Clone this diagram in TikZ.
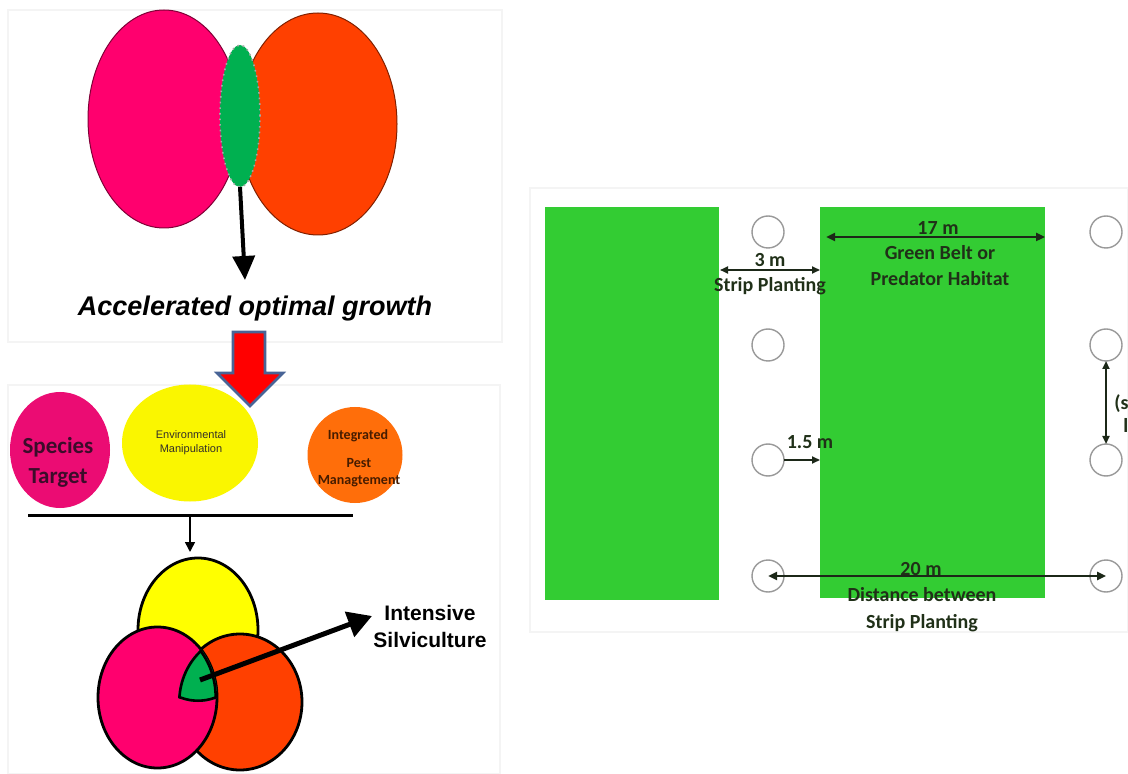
\documentclass[tikz,border=0pt]{standalone}
\usepackage{fontspec}
\setmainfont{Liberation Sans}
\newfontfamily\calfont{Carlito}
\usetikzlibrary{shapes.geometric,arrows.meta}
\definecolor{hotpink}{RGB}{255,0,110}
\definecolor{redorange}{RGB}{255,64,0}
\definecolor{lensgreen}{RGB}{0,176,80}
\definecolor{spink}{RGB}{235,12,115}
\definecolor{eyellow}{RGB}{250,246,0}
\definecolor{ipmorange}{RGB}{255,110,10}
\definecolor{vyellow}{RGB}{255,255,0}
\definecolor{stripgreen}{RGB}{51,204,51}
\definecolor{darktxt}{RGB}{32,48,24}
\definecolor{darkline}{RGB}{28,40,24}
\definecolor{arrowblue}{RGB}{72,100,150}
\definecolor{panelgray}{RGB}{244,244,244}
\definecolor{sptxt}{RGB}{60,12,42}
\definecolor{ipmtxt}{RGB}{70,28,0}
\tikzset{
  blob/.style={ellipse, inner sep=0pt, outer sep=0pt},
  stripbox/.style={rectangle, fill=stripgreen, inner sep=0pt, outer sep=0pt},
  tree/.style={circle, draw=gray!80, fill=white, line width=0.7pt, minimum size=16pt, inner sep=0pt, outer sep=0pt},
  dimthick/.style={draw=darkline, line width=1.3pt, {Triangle[length=4.5pt,width=4pt]}-{Triangle[length=4.5pt,width=4pt]}},
  dimthin/.style={draw=darkline, line width=0.9pt, {Triangle[length=4pt,width=3.5pt]}-{Triangle[length=4pt,width=3.5pt]}},
  caltxt/.style={font=\calfont\bfseries\fontsize{10pt}{12pt}\selectfont, text=darktxt, inner sep=0pt, anchor=base},
  venn/.style={draw=black, line width=1.4pt},
}
\begin{document}
\begin{tikzpicture}[x=0.5pt,y=-0.5pt]
\useasboundingbox (0,0) rectangle (1128,774);
\fill[white] (0,0) rectangle (1128,774);
% faint panel frames
\draw[panelgray, line width=0.6pt] (8,10) rectangle (502,342);
\draw[panelgray, line width=0.6pt] (8,385) rectangle (500,774);
\draw[panelgray, line width=0.6pt] (530,188) rectangle (1128,632);

% ---------- top panel ----------
\node[blob, fill=hotpink, draw=hotpink!50!black, line width=0.5pt, minimum width=76pt, minimum height=109pt] (tpink) at (164,119) {};
\node[blob, fill=redorange, draw=redorange!50!black, line width=0.5pt, minimum width=79pt, minimum height=111pt] (tred) at (318,124) {};
\node[blob, fill=lensgreen, draw=gray!70, dotted, line width=0.8pt, minimum width=20pt, minimum height=71pt] (lens) at (240,116) {};
\coordinate (aogtip) at (245,280);
\draw[line width=2pt, -{Triangle[length=12pt,width=11pt]}] (lens.south) -- (aogtip);
\node[font=\fontsize{13.5pt}{16pt}\selectfont\bfseries\itshape, anchor=base, inner sep=0pt] (aog) at (255,316) {Accelerated optimal growth};

% ---------- middle row ----------
\node[blob, fill=spink, minimum width=50pt, minimum height=58pt] (st) at (60,450) {};
\node[blob, fill=eyellow, minimum width=68pt, minimum height=58.5pt] (em) at (190,443) {};
\node[blob, fill=ipmorange, minimum width=47.5pt, minimum height=48pt] (ipm) at (355,455) {};
\node[font=\calfont\bfseries\fontsize{11.5pt}{13pt}\selectfont, text=sptxt, anchor=base, inner sep=0pt] (st1) at (58,453) {Species};
\node[font=\calfont\bfseries\fontsize{11.5pt}{13pt}\selectfont, text=sptxt, anchor=base, inner sep=0pt] (st2) at (58,483) {Target};
\node[font=\fontsize{5.5pt}{6.5pt}\selectfont, text=black!85!olive, anchor=base, inner sep=0pt] (em1) at (191,438) {Environmental};
\node[font=\fontsize{5.5pt}{6.5pt}\selectfont, text=black!85!olive, anchor=base, inner sep=0pt] (em2) at (191,452) {Manipulation};
\node[font=\calfont\bfseries\fontsize{7pt}{8pt}\selectfont, text=ipmtxt, anchor=base, inner sep=0pt] (ip1) at (358,439) {Integrated};
\node[font=\calfont\bfseries\fontsize{7pt}{8pt}\selectfont, text=ipmtxt, anchor=base, inner sep=0pt] (ip2) at (359,467) {Pest};
\node[font=\calfont\bfseries\fontsize{7pt}{8pt}\selectfont, text=ipmtxt, anchor=base, inner sep=0pt] (ip3) at (359,484) {Managtement};

% red block arrow
\draw[fill=red, draw=arrowblue, line width=1.3pt, line join=miter]
  (233,332) -- (265,332) -- (265,373) -- (283,373) -- (250,406) -- (217,373) -- (233,373) -- cycle;

% bar and arrow
\coordinate (barl) at (28,515);
\coordinate (barr) at (353,515);
\coordinate (barm) at (190,515);
\coordinate (venntop) at (190,552);
\draw[line width=1.5pt] (barl) -- (barr);
\draw[line width=0.8pt, -{Triangle[length=5pt,width=5pt]}] (barm) -- (venntop);

% ---------- Venn ----------
\fill[vyellow] (198,630) ellipse [x radius=60, y radius=72];
\draw[venn] (198,630) ellipse [x radius=60, y radius=72];
\fill[redorange] (240,702) ellipse [x radius=62, y radius=68];
\draw[venn] (240,702) ellipse [x radius=62, y radius=68];
\fill[hotpink] (157.5,697.5) ellipse [x radius=59.5, y radius=70.5];
\draw[venn] (157.5,697.5) ellipse [x radius=59.5, y radius=70.5];
\begin{scope}
  \clip (198,630) ellipse [x radius=60, y radius=72];
  \clip (240,702) ellipse [x radius=62, y radius=68];
  \clip (157.5,697.5) ellipse [x radius=59.5, y radius=70.5];
  \fill[lensgreen] (0,0) rectangle (500,774);
  \draw[black, line width=2.6pt] (198,630) ellipse [x radius=60, y radius=72];
  \draw[black, line width=2.6pt] (240,702) ellipse [x radius=62, y radius=68];
  \draw[black, line width=2.6pt] (157.5,697.5) ellipse [x radius=59.5, y radius=70.5];
\end{scope}
\coordinate (gc) at (200,680);
\coordinate (istip) at (372,616);
\draw[line width=2.5pt, -{Triangle[length=12pt,width=13pt]}] (gc) -- (istip);
\node[font=\bfseries\fontsize{10.5pt}{12pt}\selectfont, anchor=base, inner sep=0pt] (is1) at (430,620) {Intensive};
\node[font=\bfseries\fontsize{10.5pt}{12pt}\selectfont, anchor=base, inner sep=0pt] (is2) at (430,647) {Silviculture};

% ---------- right panel ----------
\node[stripbox, minimum width=87pt, minimum height=196.5pt] (r1) at (632,403.5) {};
\node[stripbox, minimum width=112.5pt, minimum height=195.5pt] (r2) at (932.5,402.5) {};
\node[tree] (c11) at (768,232) {};
\node[tree] (c12) at (1106,232) {};
\node[tree] (c21) at (768,345) {};
\node[tree] (c22) at (1106,345) {};
\node[tree] (c31) at (768,460) {};
\node[tree] (c32) at (1106,460) {};
\node[tree] (c41) at (768,576) {};
\node[tree] (c42) at (1106,576) {};

\coordinate (a17l) at (826,237);
\coordinate (a17r) at (1045,237);
\draw[dimthick] (a17l) -- (a17r);
\node[caltxt] (t17) at (938,235) {17 m};
\node[caltxt] (gb1) at (940,260) {Green Belt or};
\node[caltxt] (gb2) at (940,286) {Predator Habitat};

\coordinate (a3l) at (720,270);
\coordinate (a3r) at (820,270);
\draw[dimthin] (a3l) -- (a3r);
\node[caltxt] (t3) at (770,267) {3 m};
\node[caltxt] (sp1) at (770,292) {Strip Planting};

\coordinate (a15r) at (820,460);
\draw[draw=darkline, line width=0.9pt, -{Triangle[length=4pt,width=3.5pt]}] (c31.east) -- (a15r);
\node[caltxt] (t15) at (810,448) {1.5 m};

\draw[dimthick] (c41.center) -- (c42.center);
\node[caltxt] (t20) at (921,575) {20 m};
\node[caltxt] (db1) at (922,601) {Distance between};
\node[caltxt] (db2) at (922,628) {Strip Planting};

\draw[dimthin] (c22.south) -- (c32.north);
\begin{scope}
  \clip (0,0) rectangle (1128,774);
  \node[caltxt, anchor=base west] (sfrag) at (1114,409) {(s};
  \node[caltxt, anchor=base west] (lfrag) at (1123,433) {l};
\end{scope}
\end{tikzpicture}
\end{document}
